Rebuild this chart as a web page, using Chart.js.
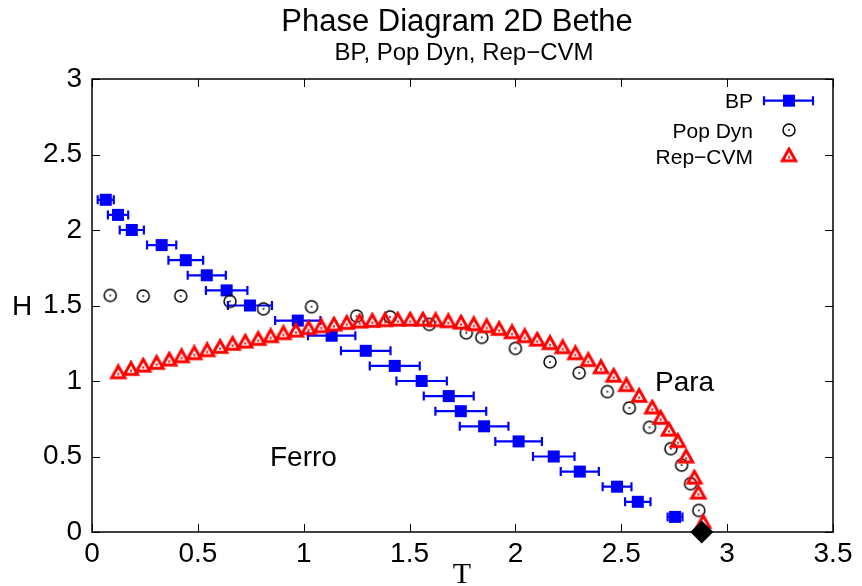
<!DOCTYPE html>
<html>
<head>
<meta charset="utf-8">
<script src="https://cdn.jsdelivr.net/npm/chart.js@4.4.0/dist/chart.umd.min.js"></script>
<style>
html, body { margin: 0; padding: 0; background: #fff; }
</style>
</head>
<body>
<canvas id="chart" width="862" height="586"></canvas>
<script>
// BP (with horizontal error bars)
const bpT = [0.065, 0.123, 0.188, 0.329, 0.443, 0.542, 0.636, 0.746, 0.972, 1.132, 1.293,
	1.430, 1.557, 1.685, 1.742, 1.852, 2.015, 2.181, 2.304, 2.480, 2.578, 2.754];
const bpH = [2.2, 2.1, 2.0, 1.9, 1.8, 1.7, 1.6, 1.5, 1.4, 1.3, 1.2,
	1.1, 1.0, 0.9, 0.8, 0.7, 0.6, 0.5, 0.4, 0.3, 0.2, 0.1];
const bpErr = [0.038, 0.048, 0.057, 0.069, 0.082, 0.090, 0.098, 0.104, 0.107, 0.112, 0.117,
	0.118, 0.119, 0.118, 0.120, 0.115, 0.110, 0.098, 0.090, 0.068, 0.060, 0.035];

// Pop Dyn
const popT = [0.086, 0.242, 0.419, 0.652, 0.810, 1.037, 1.250, 1.408, 1.593, 1.768, 1.841,
	2.000, 2.163, 2.301, 2.434, 2.538, 2.633, 2.734, 2.785, 2.827, 2.866];
const popH = [1.567, 1.563, 1.563, 1.527, 1.478, 1.492, 1.430, 1.425, 1.375, 1.319, 1.289,
	1.216, 1.127, 1.054, 0.930, 0.822, 0.693, 0.552, 0.443, 0.320, 0.143];

// Rep-CVM
const cvmT = [0.124, 0.184, 0.242, 0.305, 0.365, 0.423, 0.483, 0.544, 0.605, 0.664, 0.724,
	0.785, 0.844, 0.904, 0.963, 1.023, 1.083, 1.143, 1.203, 1.264, 1.324, 1.384, 1.444,
	1.503, 1.563, 1.623, 1.683, 1.743, 1.803, 1.864, 1.923, 1.984, 2.044, 2.103, 2.163,
	2.223, 2.283, 2.344, 2.404, 2.464, 2.524, 2.584, 2.646, 2.686, 2.725, 2.767, 2.806,
	2.845, 2.864, 2.887];
const cvmH = [1.050, 1.072, 1.094, 1.112, 1.134, 1.156, 1.176, 1.196, 1.218, 1.238, 1.253,
	1.271, 1.289, 1.309, 1.326, 1.342, 1.355, 1.366, 1.377, 1.386, 1.390, 1.395, 1.399,
	1.399, 1.399, 1.395, 1.388, 1.379, 1.368, 1.355, 1.337, 1.315, 1.289, 1.266, 1.243,
	1.216, 1.176, 1.131, 1.083, 1.027, 0.965, 0.894, 0.817, 0.748, 0.670, 0.594, 0.492,
	0.353, 0.253, 0.058];

// critical point
const tcT = [2.88];
const tcH = [0];

const seriesNames = ["BP", "Pop Dyn", "Rep\u2212CVM"];

const SANS = '"Liberation Sans", Arial, Helvetica, sans-serif';
const SERIF = '"Liberation Serif", "Times New Roman", serif';

const toPoints = (xs, ys) => xs.map((x, i) => ({ x: x, y: ys[i] }));

// point glyphs
function circleDot() {
	const c = document.createElement("canvas");
	c.width = 16;
	c.height = 16;
	const g = c.getContext("2d");
	g.strokeStyle = "#000";
	g.lineWidth = 1.5;
	g.beginPath();
	g.arc(8, 8, 6, 0, Math.PI * 2);
	g.stroke();
	g.fillStyle = "#000";
	g.fillRect(7.2, 7.2, 1.6, 1.6);
	return c;
}
function triangleDot() {
	const c = document.createElement("canvas");
	c.width = 20;
	c.height = 20;
	const g = c.getContext("2d");
	g.strokeStyle = "#f00";
	g.lineWidth = 3;
	g.lineJoin = "miter";
	g.beginPath();
	g.moveTo(10, 2.5);
	g.lineTo(16.6, 14.2);
	g.lineTo(3.4, 14.2);
	g.closePath();
	g.stroke();
	g.fillStyle = "#f00";
	g.fillRect(9, 9.6, 2, 2);
	return c;
}
const circleImg = circleDot();
const triImg = triangleDot();

function errorBar(ctx, x1, x2, y) {
	ctx.beginPath();
	ctx.moveTo(x1, y);
	ctx.lineTo(x2, y);
	ctx.moveTo(x1, y - 4.5);
	ctx.lineTo(x1, y + 4.5);
	ctx.moveTo(x2, y - 4.5);
	ctx.lineTo(x2, y + 4.5);
	ctx.stroke();
}

const errorBars = {
	id: "errorBars",
	beforeDatasetDraw(chart, args) {
		if (args.index !== 0) return;
		const { ctx, scales: { x, y } } = chart;
		ctx.save();
		ctx.strokeStyle = "#0000ff";
		ctx.lineWidth = 2.2;
		bpT.forEach((t, i) => {
			errorBar(ctx, x.getPixelForValue(t - bpErr[i]), x.getPixelForValue(t + bpErr[i]),
				y.getPixelForValue(bpH[i]));
		});
		ctx.restore();
	},
};

const frame = {
	id: "frame",
	beforeDatasetsDraw(chart) {
		const { ctx, chartArea: a, scales: { x, y } } = chart;
		ctx.save();
		ctx.strokeStyle = "#000";
		ctx.lineWidth = 1;
		ctx.beginPath();
		x.ticks.forEach((t) => {
			const px = Math.round(x.getPixelForValue(t.value)) + 0.5;
			ctx.moveTo(px, a.bottom);
			ctx.lineTo(px, a.bottom - 8);
			ctx.moveTo(px, a.top);
			ctx.lineTo(px, a.top + 8);
		});
		y.ticks.forEach((t) => {
			const py = Math.round(y.getPixelForValue(t.value)) + 0.5;
			ctx.moveTo(a.left, py);
			ctx.lineTo(a.left + 8, py);
			ctx.moveTo(a.right, py);
			ctx.lineTo(a.right - 8, py);
		});
		ctx.stroke();
		ctx.lineWidth = 1.5;
		ctx.strokeRect(a.left, a.top, a.right - a.left, a.bottom - a.top);
		ctx.restore();
	},
};

const labels = {
	id: "labels",
	afterDraw(chart) {
		const { ctx } = chart;
		ctx.save();
		ctx.fillStyle = "#000";
		ctx.textBaseline = "alphabetic";
		ctx.textAlign = "center";
		ctx.font = "31px " + SANS;
		ctx.fillText("Phase Diagram 2D Bethe", 457, 31);
		ctx.font = "24px " + SANS;
		ctx.fillText("BP, Pop Dyn, Rep\u2212CVM", 464, 60);
		ctx.font = "30px " + SERIF;
		ctx.fillText("T", 462, 583);
		ctx.textAlign = "left";
		ctx.font = "28px " + SANS;
		ctx.fillText("H", 12, 315);
		ctx.fillText("Ferro", 270, 466);
		ctx.fillText("Para", 655, 391);

		// key
		ctx.textAlign = "right";
		ctx.font = "21px " + SANS;
		const rows = [100.7, 130, 156.5];
		seriesNames.forEach((name, i) => ctx.fillText(name, 753, rows[i] + 7.6));
		ctx.strokeStyle = "#0000ff";
		ctx.lineWidth = 2.2;
		errorBar(ctx, 764, 813, rows[0]);
		ctx.fillStyle = "#0000ff";
		ctx.fillRect(783, rows[0] - 6, 12, 12);
		ctx.drawImage(circleImg, 789 - 8, rows[1] - 8);
		ctx.drawImage(triImg, 789 - 10, rows[2] - 10);
		ctx.restore();
	},
};

new Chart(document.getElementById("chart"), {
	type: "scatter",
	data: {
		datasets: [
			{
				label: seriesNames[0],
				data: toPoints(bpT, bpH),
				pointStyle: "rect",
				radius: 8.5,
				backgroundColor: "#0000ff",
				borderWidth: 0,
				order: 3,
			},
			{
				label: seriesNames[1],
				data: toPoints(popT, popH),
				pointStyle: circleImg,
				order: 2,
			},
			{
				label: seriesNames[2],
				data: toPoints(cvmT, cvmH),
				pointStyle: triImg,
				order: 1,
			},
			{
				label: "Tc",
				data: toPoints(tcT, tcH),
				pointStyle: "rectRot",
				radius: 11.5,
				backgroundColor: "#000",
				borderWidth: 0,
				clip: false,
				order: 0,
			},
		],
	},
	options: {
		responsive: false,
		animation: false,
		events: [],
		layout: { padding: { top: 79, right: 29, left: 0, bottom: 0 } },
		plugins: {
			legend: { display: false },
			tooltip: { enabled: false },
		},
		scales: {
			x: {
				type: "linear",
				min: 0,
				max: 3.5,
				grid: { display: false, drawTicks: false },
				border: { display: false },
				ticks: {
					stepSize: 0.5,
					color: "#000",
					padding: 5,
					font: { family: SANS, size: 28 },
					callback: (v) => String(v),
				},
				afterFit: (s) => { s.height = 54; },
			},
			y: {
				type: "linear",
				min: 0,
				max: 3,
				grid: { display: false, drawTicks: false },
				border: { display: false },
				ticks: {
					stepSize: 0.5,
					color: "#000",
					padding: 10,
					font: { family: SANS, size: 28 },
					callback: (v) => String(v),
				},
				afterFit: (s) => { s.width = 92; },
			},
		},
	},
	plugins: [errorBars, frame, labels],
});
</script>
</body>
</html>
